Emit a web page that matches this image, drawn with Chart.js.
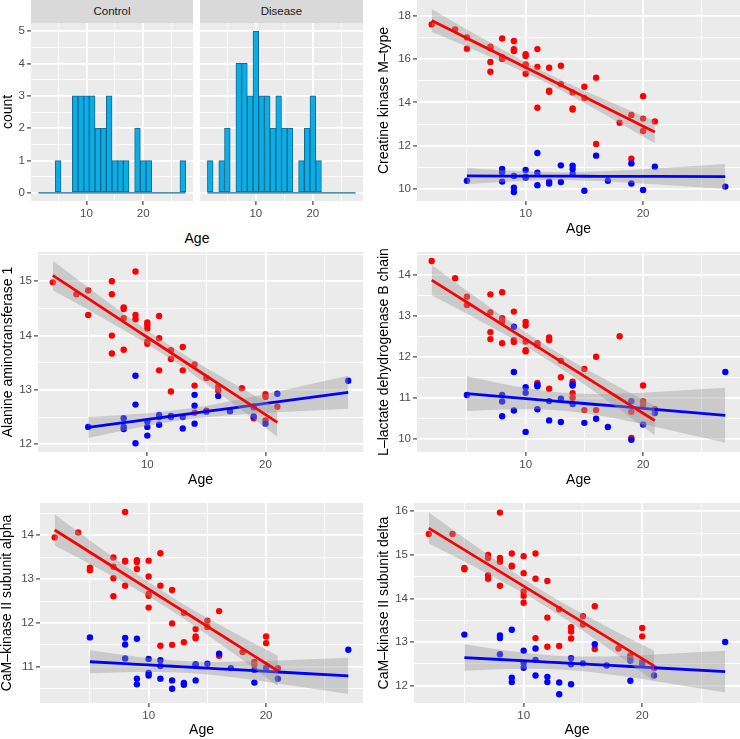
<!DOCTYPE html>
<html lang="en">

<head>
    <meta charset="UTF-8">
    <title>Age vs protein level</title>
    <script src="https://cdn.jsdelivr.net/npm/chart.js"></script>
    <style>
        body {
            margin: 0;
            width: 740px;
            height: 739px;
            position: relative;
            overflow: hidden;
            background: #fff;
            font-family: "Liberation Sans", Arial, sans-serif;
        }

        canvas {
            position: absolute;
        }

        .strip {
            position: absolute;
            top: 0;
            height: 23px;
            line-height: 23px;
            background: #D9D9D9;
            color: #1A1A1A;
            font-size: 11.5px;
            text-align: center;
        }

        .age {
            position: absolute;
            width: 100px;
            height: 18px;
            line-height: 18px;
            font-size: 14px;
            text-align: center;
            color: #000;
        }
    </style>
</head>

<body>
    <div class="strip" style="left:31px; width:162px">Control</div>
    <div class="strip" style="left:200px; width:163px">Disease</div>
    <div class="age" style="left:147px; top:229px">Age</div>

    <canvas id="histControl"></canvas>
    <canvas id="histDisease"></canvas>
    <canvas id="ck"></canvas>
    <canvas id="alt"></canvas>
    <canvas id="ldhb"></canvas>
    <canvas id="camk2a"></canvas>
    <canvas id="camk2d"></canvas>

    <script>
        // ages of the 42 disease and 28 control subjects
        const diseaseAge = [2, 4, 5, 5, 7, 7, 7, 7, 8, 8, 8, 8, 9, 9, 9, 10, 10, 10, 10, 10, 11, 11, 11, 12, 12, 12, 13, 13, 14, 14, 14, 15, 15, 16, 16, 18, 19, 19, 20, 20, 20, 21];
        const controlAge = [5, 8, 8, 8, 9, 9, 9, 10, 10, 10, 11, 11, 11, 12, 12, 13, 13, 14, 14, 14, 15, 16, 17, 19, 19, 20, 21, 27];

        // histogram (binwidth 1)
        const binAge = [2, 3, 4, 5, 6, 7, 8, 9, 10, 11, 12, 13, 14, 15, 16, 17, 18, 19, 20, 21, 22, 23, 24, 25, 26, 27];
        const countControl = [0, 0, 0, 1, 0, 0, 3, 3, 3, 3, 2, 2, 3, 1, 1, 1, 0, 2, 1, 1, 0, 0, 0, 0, 0, 1];
        const countDisease = [1, 0, 1, 2, 0, 4, 4, 3, 5, 3, 3, 2, 3, 2, 2, 0, 1, 2, 3, 1, 0, 0, 0, 0, 0, 0];

        // protein levels, same order as the age arrays
        const ckDisease = [17.6, 17.37, 17.0, 16.48, 16.57, 16.5, 15.86, 15.41, 16.95, 16.1, 16.06, 16.0, 16.83, 16.45, 16.37, 16.22, 16.14, 15.75, 15.7, 15.32, 16.46, 15.64, 13.75, 15.6, 14.54, 14.49, 15.69, 14.84, 14.46, 13.72, 13.67, 14.72, 14.2, 15.14, 12.08, 13.06, 13.42, 11.4, 14.28, 13.25, 12.68, 13.12];
        const ckControl = [10.38, 10.92, 10.77, 10.34, 10.6, 10.06, 9.86, 10.88, 10.57, 10.52, 11.66, 10.75, 10.17, 10.34, 10.25, 11.09, 10.32, 11.08, 10.92, 10.69, 9.92, 11.54, 10.38, 11.18, 10.25, 9.95, 11.03, 10.11];

        const altDisease = [14.98, 14.76, 14.83, 14.38, 15.0, 14.76, 14.0, 13.67, 14.52, 14.49, 14.32, 13.74, 15.18, 14.38, 14.3, 14.24, 14.2, 14.13, 13.89, 13.85, 14.36, 13.95, 13.36, 13.73, 13.57, 12.97, 13.79, 13.36, 13.47, 13.08, 12.58, 13.22, 12.62, 13.06, 12.99, 13.03, 12.7, 12.48, 12.92, 12.87, 12.44, 12.69];
        const altControl = [12.32, 12.48, 12.32, 12.28, 13.26, 12.73, 12.02, 12.42, 12.32, 12.16, 12.54, 12.5, 12.36, 12.52, 12.5, 12.5, 12.29, 12.91, 12.71, 12.38, 12.6, 12.89, 12.61, 12.68, 12.51, 12.38, 12.93, 13.17];

        const ldhbDisease = [14.33, 13.91, 13.46, 13.26, 13.52, 13.08, 12.6, 12.43, 13.57, 12.94, 12.85, 12.33, 13.1, 12.4, 12.36, 12.85, 12.76, 12.37, 12.16, 12.13, 12.33, 12.28, 11.36, 12.47, 12.4, 11.22, 11.9, 11.5, 11.39, 11.11, 11.0, 11.7, 10.7, 12.0, 10.7, 12.5, 10.66, 10.02, 11.3, 10.92, 10.83, 10.72];
        const ldhbControl = [11.07, 11.07, 10.91, 10.55, 12.73, 11.63, 10.69, 11.26, 11.12, 10.17, 11.31, 11.28, 10.72, 10.92, 10.45, 10.98, 10.41, 11.33, 11.3, 10.85, 10.39, 10.49, 10.29, 10.92, 9.98, 10.35, 10.63, 11.63];

        const camk2aDisease = [13.95, 14.06, 13.26, 13.2, 13.49, 13.28, 13.02, 12.61, 14.53, 13.42, 13.4, 12.85, 13.43, 13.39, 13.23, 13.42, 13.06, 12.66, 12.62, 12.35, 13.59, 12.85, 11.48, 12.75, 11.99, 11.5, 12.23, 11.56, 11.86, 11.69, 11.65, 12.05, 11.91, 12.27, 11.25, 11.34, 11.11, 11.05, 11.69, 11.54, 10.98, 10.97];
        const camk2aControl = [11.67, 11.66, 11.51, 11.19, 11.64, 10.73, 10.6, 11.18, 10.86, 10.8, 11.15, 11.02, 10.73, 10.69, 10.5, 10.63, 10.59, 11.06, 11.04, 10.69, 11.07, 11.3, 10.97, 10.93, 10.64, 10.97, 10.73, 11.39];

        const camk2dDisease = [15.48, 15.48, 14.67, 14.7, 15.0, 14.93, 14.53, 14.45, 15.97, 14.93, 14.84, 14.29, 15.03, 14.73, 14.75, 14.97, 14.58, 14.16, 14.06, 13.9, 15.03, 14.45, 13.09, 14.4, 13.56, 12.89, 13.75, 12.91, 13.34, 13.24, 13.08, 13.59, 13.4, 13.82, 12.84, 12.85, 12.69, 12.62, 13.32, 13.13, 12.55, 12.4];
        const camk2dControl = [13.17, 13.15, 13.09, 12.72, 13.28, 12.18, 12.08, 12.8, 12.52, 12.41, 12.85, 12.59, 12.23, 12.2, 12.08, 12.07, 11.8, 12.63, 12.49, 12.03, 12.51, 12.95, 12.46, 12.57, 12.11, 12.5, 12.23, 13.0];

        // tick values (major = labelled, minor = thin grid only)
        const ageMajor = [10, 20];
        const ageMinor = [5, 15, 25];
        const countMajor = [0, 1, 2, 3, 4, 5];
        const countMinor = [0.5, 1.5, 2.5, 3.5, 4.5];
        const ckMajor = [10, 12, 14, 16, 18];
        const ckMinor = [11, 13, 15, 17];
        const altMajor = [12, 13, 14, 15];
        const altMinor = [12.5, 13.5, 14.5, 15.5];
        const ldhbMajor = [10, 11, 12, 13, 14];
        const ldhbMinor = [10.5, 11.5, 12.5, 13.5, 14.5];
        const camk2aMajor = [11, 12, 13, 14];
        const camk2aMinor = [10.5, 11.5, 12.5, 13.5, 14.5];
        const camk2dMajor = [12, 13, 14, 15, 16];
        const camk2dMinor = [12.5, 13.5, 14.5, 15.5];

        // t quantiles for the 95% band of lm fit (df = n - 2)
        const T_DISEASE = 2.021;
        const T_CONTROL = 2.056;

        Chart.defaults.font.family = '"Liberation Sans", Arial, sans-serif';
        const PAD = 14;

        const panelBg = {
            id: 'panelBg',
            beforeDraw(chart) {
                const { ctx, chartArea: a } = chart;
                ctx.save();
                ctx.fillStyle = '#EBEBEB';
                ctx.fillRect(a.left, a.top, a.right - a.left, a.bottom - a.top);
                ctx.restore();
            }
        };

        function axis(min, max, major, minor, extra) {
            const all = major.concat(minor).sort((a, b) => a - b);
            const isMajor = c => c.tick && major.includes(c.tick.value);
            return Object.assign({
                type: 'linear',
                min: min,
                max: max,
                offset: false,
                border: { display: false },
                afterBuildTicks: s => { s.ticks = all.map(v => ({ value: v })); },
                ticks: {
                    callback: v => major.includes(v) ? String(v) : '',
                    color: '#4D4D4D',
                    font: { size: 11.5 },
                    autoSkip: false,
                    maxRotation: 0,
                    padding: 2
                },
                grid: {
                    offset: false,
                    color: '#FFFFFF',
                    lineWidth: c => isMajor(c) ? 1.8 : 0.9,
                    tickLength: 4,
                    tickWidth: 1.1,
                    tickColor: c => isMajor(c) ? '#333333' : 'rgba(0,0,0,0)'
                }
            }, extra);
        }

        // canvas box from the wanted plot rectangle
        function place(id, box) {
            const cv = document.getElementById(id);
            const top = box.t - PAD;
            const w = box.r - box.colLeft + PAD;
            const h = box.bottom - top;
            cv.style.left = box.colLeft + 'px';
            cv.style.top = top + 'px';
            cv.width = w;
            cv.height = h;
            cv.style.width = w + 'px';
            cv.style.height = h + 'px';
            return cv;
        }

        function baseOptions(box) {
            return {
                responsive: false,
                animation: false,
                devicePixelRatio: 1,
                layout: { padding: { top: PAD, right: PAD, left: 0, bottom: 0 } },
                plugins: { legend: { display: false }, tooltip: { enabled: false } }
            };
        }

        // linear fit + 95% confidence band, evaluated at the observed ages
        function smooth(xs, ys, tq) {
            const n = xs.length;
            const mx = xs.reduce((a, b) => a + b, 0) / n;
            const my = ys.reduce((a, b) => a + b, 0) / n;
            let sxx = 0, sxy = 0;
            for (let i = 0; i < n; i++) {
                sxx += (xs[i] - mx) ** 2;
                sxy += (xs[i] - mx) * (ys[i] - my);
            }
            const slope = sxy / sxx;
            const icpt = my - slope * mx;
            let sse = 0;
            for (let i = 0; i < n; i++) sse += (ys[i] - icpt - slope * xs[i]) ** 2;
            const s = Math.sqrt(sse / (n - 2));
            const grid = [...new Set(xs)].sort((a, b) => a - b);
            const fit = [], upper = [], lower = [];
            grid.forEach(x => {
                const y = icpt + slope * x;
                const se = s * Math.sqrt(1 / n + (x - mx) ** 2 / sxx);
                fit.push({ x: x, y: y });
                upper.push({ x: x, y: y + tq * se });
                lower.push({ x: x, y: y - tq * se });
            });
            return { fit, upper, lower };
        }

        function histogram(id, box, counts, showY) {
            const cv = place(id, box);
            const bars = binAge.map((a, i) => ({ x: a, y: counts[i] }));
            const edges = [{ x: binAge[0] - 0.5, y: 0 }, { x: binAge[binAge.length - 1] + 0.5, y: 0 }];
            const opts = baseOptions(box);
            opts.scales = {
                x: axis(0.2, 28.8, ageMajor, ageMinor, {
                    afterFit: s => { s.height = box.bottom - box.b; }
                }),
                y: axis(-0.25, 5.25, countMajor, countMinor, {
                    afterFit: s => { s.width = box.l - box.colLeft; }
                })
            };
            if (showY) {
                opts.scales.y.title = {
                    display: true, text: 'count', color: '#000',
                    font: { size: 14, lineHeight: 1 }, padding: { top: 0.7, bottom: 0 }
                };
            } else {
                opts.scales.y.ticks.display = false;
                opts.scales.y.grid.drawTicks = false;
            }
            new Chart(cv, {
                type: 'bar',
                data: {
                    datasets: [{
                        data: bars,
                        backgroundColor: '#0AADE5',
                        borderColor: '#16688C',
                        borderWidth: 1,
                        borderSkipped: false,
                        barPercentage: 1,
                        categoryPercentage: 1,
                        order: 2
                    }, {
                        type: 'line',
                        data: edges,
                        borderColor: '#16688C',
                        borderWidth: 1.2,
                        pointRadius: 0,
                        order: 1
                    }]
                },
                options: opts,
                plugins: [panelBg]
            });
        }

        function scatterPanel(id, box, yLabel, disY, ctlY, yMin, yMax, major, minor, titlePad) {
            const cv = place(id, box);
            const dis = smooth(diseaseAge, disY, T_DISEASE);
            const ctl = smooth(controlAge, ctlY, T_CONTROL);
            const band = { type: 'line', borderWidth: 0, borderColor: 'rgba(0,0,0,0)', pointRadius: 0, tension: 0 };
            const line = { type: 'line', borderWidth: 2.8, pointRadius: 0, tension: 0, fill: false };
            const opts = baseOptions(box);
            opts.scales = {
                x: axis(0.75, 28.25, ageMajor, ageMinor, {
                    title: {
                        display: true, text: 'Age', color: '#000',
                        font: { size: 14, lineHeight: 1 }, padding: { top: 0, bottom: 0 }
                    },
                    afterFit: s => { s.height = box.bottom - box.b; }
                }),
                y: axis(yMin, yMax, major, minor, {
                    title: {
                        display: true, text: yLabel, color: '#000',
                        font: { size: 14, lineHeight: 1 }, padding: { top: titlePad, bottom: 0 }
                    },
                    afterFit: s => { s.width = box.l - box.colLeft; }
                })
            };
            new Chart(cv, {
                type: 'scatter',
                data: {
                    datasets: [
                        {
                            data: controlAge.map((a, i) => ({ x: a, y: ctlY[i] })),
                            pointBackgroundColor: '#0000FF', pointBorderWidth: 0, pointRadius: 3.2, order: 10
                        },
                        {
                            data: diseaseAge.map((a, i) => ({ x: a, y: disY[i] })),
                            pointBackgroundColor: '#FF0000', pointBorderWidth: 0, pointRadius: 3.2, order: 10
                        },
                        Object.assign({ data: ctl.upper, fill: '+1', backgroundColor: 'rgba(153,153,153,0.4)', order: 4 }, band),
                        Object.assign({ data: ctl.lower, fill: false, order: 4 }, band),
                        Object.assign({ data: ctl.fit, borderColor: '#0000FF', order: 3 }, line),
                        Object.assign({ data: dis.upper, fill: '+1', backgroundColor: 'rgba(153,153,153,0.4)', order: 2 }, band),
                        Object.assign({ data: dis.lower, fill: false, order: 2 }, band),
                        Object.assign({ data: dis.fit, borderColor: '#FF0000', order: 1 }, line)
                    ]
                },
                options: opts,
                plugins: [panelBg]
            });
        }

        histogram('histControl', { colLeft: 0, l: 31, t: 23, r: 193, b: 201, bottom: 221 }, countControl, true);
        histogram('histDisease', { colLeft: 200, l: 200, t: 23, r: 363, b: 201, bottom: 221 }, countDisease, false);

        scatterPanel('ck', { colLeft: 370, l: 417, t: 0, r: 740, b: 201, bottom: 236 },
            'Creatine kinase M\u2013type', ckDisease, ckControl, 9.445, 18.726, ckMajor, ckMinor, 6.7);
        scatterPanel('alt', { colLeft: 0, l: 38, t: 252, r: 363, b: 452, bottom: 487 },
            'Alanine aminotransferase 1', altDisease, altControl, 11.858, 15.538, altMajor, altMinor, 1.3);
        scatterPanel('ldhb', { colLeft: 370, l: 417, t: 252, r: 740, b: 452, bottom: 487 },
            'L\u2013lactate dehydrogenase B chain', ldhbDisease, ldhbControl, 9.68, 14.551, ldhbMajor, ldhbMinor, 7.5);
        scatterPanel('camk2a', { colLeft: 0, l: 40, t: 503, r: 363, b: 703, bottom: 737 },
            'CaM\u2013kinase II subunit alpha', camk2aDisease, camk2aControl, 10.175, 14.734, camk2aMajor, camk2aMinor, 0);
        scatterPanel('camk2d', { colLeft: 370, l: 414, t: 503, r: 740, b: 703, bottom: 737 },
            'CaM\u2013kinase II subunit delta', camk2dDisease, camk2dControl, 11.6, 16.19, camk2dMajor, camk2dMinor, 7);
    </script>
</body>

</html>
